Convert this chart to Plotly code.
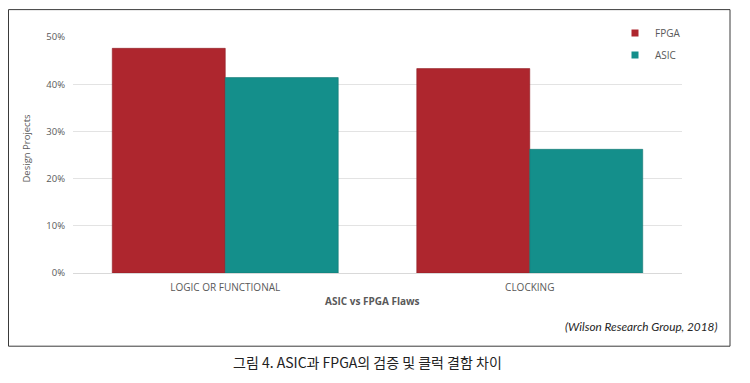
import plotly.graph_objects as go

# ---- data ----
categories = ["LOGIC OR FUNCTIONAL", "CLOCKING"]
fpga_values = [47.6, 43.3]
asic_values = [41.4, 26.2]
series_names = ["FPGA", "ASIC"]
y_ticks = [0, 10, 20, 30, 40, 50]
y_tick_labels = ["0%", "10%", "20%", "30%", "40%", "50%"]

# ---- layout geometry (pixels in the 750x383 window; page body adds an 8px margin) ----
OFF = 8
W, H = 750 - OFF, 383 - OFF
L, R, T, B = 73 - OFF, 682 - OFF, 36 - OFF, 273 - OFF

def xp(px):
    return (px - OFF - L) / (R - L)

def yp(py):
    return (B - (py - OFF)) / (B - T)

FPGA_COLOR = "#AE262E"
ASIC_COLOR = "#148F8B"
TXT = "#595959"
FONT = "Open Sans, Noto Sans, sans-serif"

fig = go.Figure()
fig.add_trace(go.Bar(x=categories, y=fpga_values, name=series_names[0],
                     marker=dict(color=FPGA_COLOR, line=dict(color="#8E1C23", width=0.6)),
                     showlegend=False))
fig.add_trace(go.Bar(x=categories, y=asic_values, name=series_names[1],
                     marker=dict(color=ASIC_COLOR, line=dict(color="#0F7571", width=0.6)),
                     showlegend=False))
# legend entries with small square swatches
fig.add_trace(go.Scatter(x=[None], y=[None], mode="markers", name=series_names[0],
                         marker=dict(symbol="square", size=7, color=FPGA_COLOR),
                         legend="legend"))
fig.add_trace(go.Scatter(x=[None], y=[None], mode="markers", name=series_names[1],
                         marker=dict(symbol="square", size=7, color=ASIC_COLOR),
                         legend="legend2"))

fig.update_layout(
    width=W, height=H,
    margin=dict(l=L, r=W - R, t=T, b=H - B, pad=0),
    paper_bgcolor="white", plot_bgcolor="white",
    barmode="group", bargap=0.258, bargroupgap=0,
    font=dict(family=FONT, size=10, color=TXT),
    legend=dict(x=xp(615), y=yp(33), xanchor="left", yanchor="middle",
                bgcolor="white", borderwidth=0, font=dict(size=10, color=TXT, family=FONT),
                itemwidth=30),
    legend2=dict(x=xp(615), y=yp(55), xanchor="left", yanchor="middle",
                 bgcolor="rgba(0,0,0,0)", borderwidth=0, font=dict(size=10, color=TXT, family=FONT),
                 itemwidth=30),
    xaxis=dict(showgrid=False, showline=False, ticks="", ticklabelstandoff=7,
               tickfont=dict(size=10, color=TXT, family=FONT)),
    yaxis=dict(range=[0, 50], tickvals=y_ticks, ticktext=y_tick_labels,
               showgrid=True, gridcolor="#E3E3E3", gridwidth=1,
               zeroline=True, zerolinecolor="#D9D9D9", zerolinewidth=1,
               showline=False, ticks="", ticklabelstandoff=7,
               tickfont=dict(size=9.5, color=TXT, family=FONT)),
    showlegend=True,
)

# outer frame
fig.add_shape(type="rect", xref="paper", yref="paper",
              x0=xp(8.5), x1=xp(730), y0=yp(346.5), y1=yp(8.5),
              line=dict(color="#3A3A3A", width=1), fillcolor="rgba(0,0,0,0)", layer="below")

# axis titles and notes
fig.add_annotation(text="Design Projects", xref="paper", yref="paper",
                   x=xp(27), y=yp(148), textangle=-90, showarrow=False,
                   xanchor="center", yanchor="middle",
                   font=dict(size=9.5, color=TXT, family=FONT))
fig.add_annotation(text="<b>ASIC vs FPGA Flaws</b>", xref="paper", yref="paper",
                   x=xp(372), y=yp(301.5), showarrow=False,
                   xanchor="center", yanchor="middle",
                   font=dict(size=10, color=TXT, family=FONT))
fig.add_annotation(text="<i>(Wilson Research Group, 2018)</i>", xref="paper", yref="paper",
                   x=xp(719), y=yp(326.5), showarrow=False,
                   xanchor="right", yanchor="middle",
                   font=dict(size=11.8, color="#262626", family="Lato, Open Sans, sans-serif"))
fig.add_annotation(text="그림 4. ASIC과 FPGA의 검증 및 클럭 결함 차이", xref="paper", yref="paper",
                   x=xp(367), y=yp(362), showarrow=False,
                   xanchor="center", yanchor="middle",
                   font=dict(size=14, color="#222222", family="Noto Sans CJK KR, sans-serif"))

fig.write_html("out.html")
